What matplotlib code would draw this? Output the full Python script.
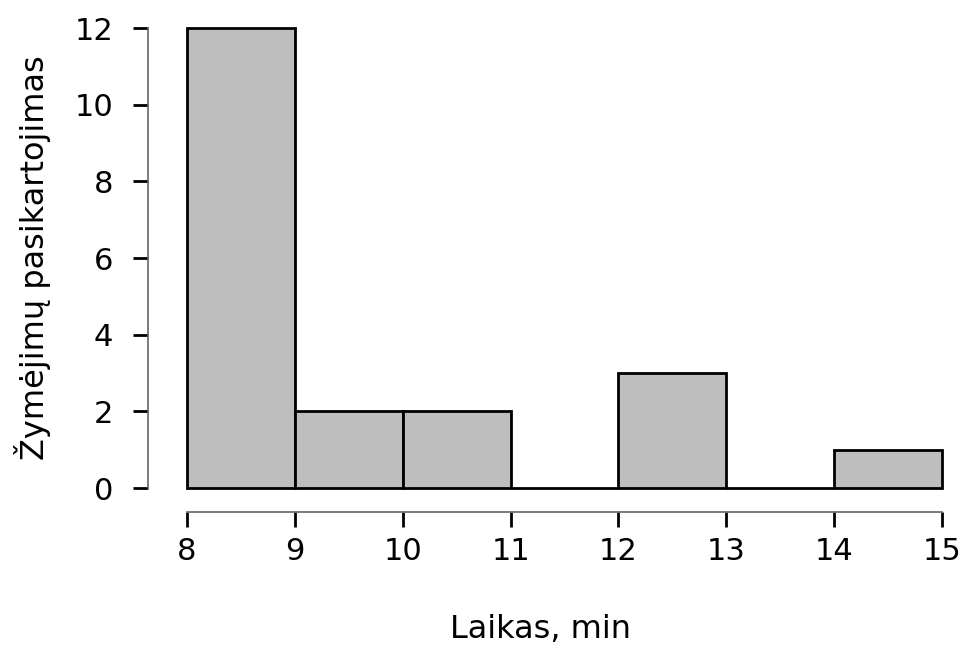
import matplotlib
matplotlib.use("Agg")
import matplotlib.pyplot as plt

# histogram bins (minutes) and counts
bin_edges = [8, 9, 10, 11, 12, 13, 14, 15]
counts = [12, 2, 2, 0, 3, 0, 1]
x_ticks = [8, 9, 10, 11, 12, 13, 14, 15]
y_ticks = [0, 2, 4, 6, 8, 10, 12]

plt.rcParams['font.family'] = ['DejaVu Sans']

fig = plt.figure(figsize=(9.65, 6.48), dpi=100)
ax = fig.add_axes([187 / 965, 1 - 488 / 648, 755 / 965, 460 / 648])

lefts = bin_edges[:-1]
widths = [b - a for a, b in zip(bin_edges[:-1], bin_edges[1:])]
ax.bar(lefts, counts, width=widths, align='edge', color='#bebebe',
       edgecolor='black', linewidth=2.0, clip_on=False)

ax.set_xlim(8, 15)
ax.set_ylim(0, 12)

# R-style detached axes
for s in ['top', 'right']:
    ax.spines[s].set_visible(False)
ax.spines['left'].set_position(('outward', 28))
ax.spines['bottom'].set_position(('outward', 17))
for s in ['left', 'bottom']:
    ax.spines[s].set_color('#666666')
    ax.spines[s].set_linewidth(1.2)

ax.set_xticks(x_ticks)
ax.set_yticks(y_ticks)
ax.tick_params(axis='both', length=11, width=2.0, color='black', labelsize=22)
ax.tick_params(axis='y', pad=14)
ax.tick_params(axis='x', pad=7)

ax.set_xlabel('Laikas, min', fontsize=23)
ax.set_ylabel('Žymėjimų pasikartojimas', fontsize=23)
ax.xaxis.set_label_coords((540 - 187) / 755, (488 - 630) / 460)
ax.xaxis.label.set_va('center')
ax.yaxis.set_label_coords((33 - 187) / 755, (488 - 258) / 460)
ax.yaxis.label.set_va('center')

fig.savefig('out.png', dpi=100)
